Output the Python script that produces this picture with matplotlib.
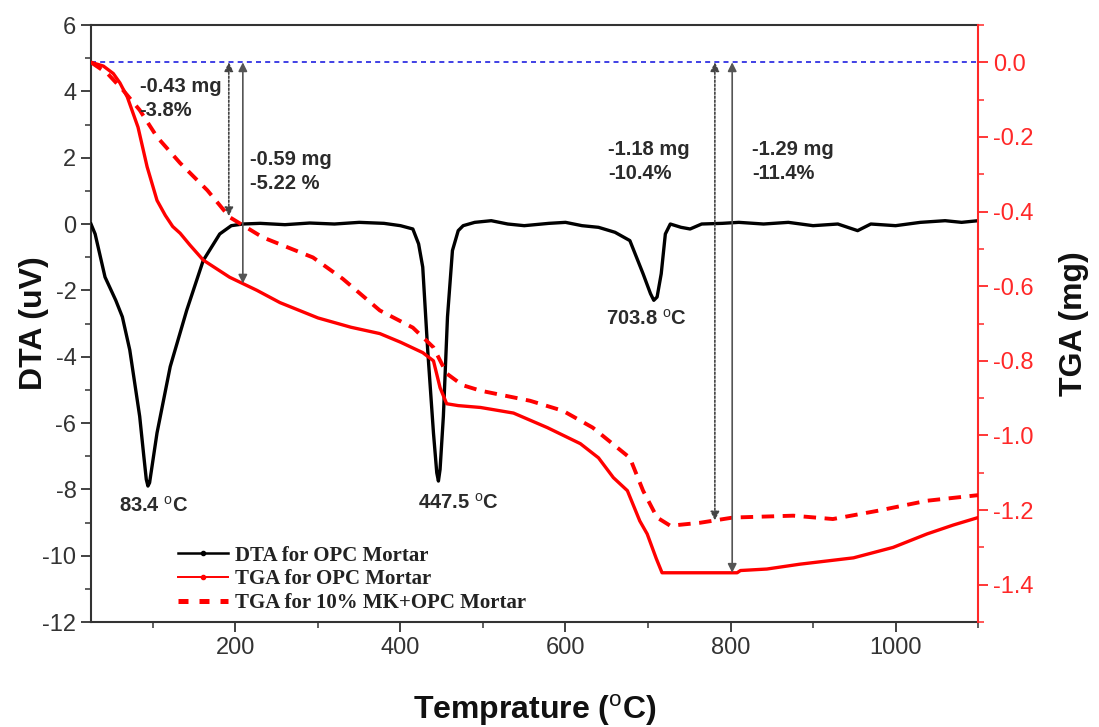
"""DTA / TGA curves for OPC mortar and 10% MK + OPC mortar."""
import numpy as np
import matplotlib
matplotlib.use("Agg")
import matplotlib.pyplot as plt
from matplotlib.ticker import MultipleLocator

plt.rcParams["font.family"] = ["Liberation Sans", "DejaVu Sans"]
plt.rcParams["mathtext.fontset"] = "custom"
plt.rcParams["mathtext.rm"] = "Liberation Sans"
plt.rcParams["mathtext.bf"] = "Liberation Sans:bold"
plt.rcParams["axes.unicode_minus"] = False

# ---------- DTA, OPC mortar (uV)
dta_t = [25, 30, 42, 55, 63, 72, 84, 89, 92, 94, 96, 99, 105, 121, 141, 161,
         181, 195, 209, 230, 260, 290, 320, 350, 380, 400, 415, 422, 427, 433,
         440, 444, 446, 448, 452, 457, 463, 470, 476, 490, 510, 530, 550, 580,
         600, 620, 640, 660, 678, 694, 703, 707, 711, 716, 721, 727, 740, 751,
         765, 790, 810, 840, 870, 900, 930, 954, 970, 1000, 1030, 1060, 1080,
         1100]
dta_v = [0.0, -0.3, -1.6, -2.3, -2.8, -3.8, -5.8, -7.0, -7.7, -7.9, -7.8, -7.3,
         -6.3, -4.3, -2.6, -1.1, -0.3, -0.05, 0.0, 0.02, -0.02, 0.03, 0.0, 0.05,
         0.02, -0.05, -0.15, -0.6, -1.3, -3.8, -6.3, -7.5, -7.75, -7.4, -5.8,
         -2.8, -0.8, -0.2, -0.05, 0.05, 0.1, 0.0, -0.05, 0.02, 0.05, -0.05, -0.1,
         -0.25, -0.5, -1.5, -2.1, -2.3, -2.2, -1.5, -0.3, 0.0, -0.1, -0.15, 0.0,
         0.02, 0.05, 0.0, 0.05, -0.05, 0.0, -0.2, 0.0, -0.05, 0.05, 0.1, 0.05,
         0.1]

# ---------- TGA, OPC mortar (mg)
tga_t = [25, 40, 52, 60, 69, 82, 93, 105, 115, 124, 133, 145, 161, 193, 226,
         254, 300, 340, 375, 400, 427, 440, 448, 456, 470, 497, 537, 578, 618,
         640, 658, 675, 690, 699, 710, 717, 808, 812, 844, 884, 949, 997, 1038,
         1070, 1100]
tga_v = [0.0, -0.01, -0.03, -0.055, -0.093, -0.174, -0.28, -0.37, -0.41, -0.44,
         -0.458, -0.49, -0.53, -0.576, -0.611, -0.644, -0.685, -0.71, -0.727,
         -0.75, -0.778, -0.80, -0.872, -0.915, -0.92, -0.925, -0.94, -0.979,
         -1.022, -1.06, -1.113, -1.148, -1.229, -1.264, -1.33, -1.368, -1.368,
         -1.362, -1.358, -1.345, -1.328, -1.30, -1.264, -1.24, -1.22]

# ---------- TGA, 10% MK + OPC mortar (mg)
mk_t = [25, 45, 64, 84, 105, 133, 166, 193, 233, 294, 330, 375, 415, 440, 456,
        475, 497, 557, 597, 633, 678, 694, 711, 727, 763, 803, 876, 924, 978,
        1038, 1100]
mk_v = [0.0, -0.03, -0.075, -0.128, -0.2, -0.27, -0.343, -0.415, -0.469,
        -0.523, -0.58, -0.665, -0.711, -0.764, -0.834, -0.865, -0.88, -0.907,
        -0.934, -0.979, -1.06, -1.148, -1.22, -1.242, -1.234, -1.22, -1.215,
        -1.224, -1.202, -1.175, -1.16]

# mass-loss markers: temperature, which curve, label
loss_t = [192, 209, 781, 802]
loss_curve = ["mk", "opc", "mk", "opc"]
loss_text = ["-0.43 mg\n-3.8%", "-0.59 mg\n-5.22 %", "-1.18 mg\n-10.4%", "-1.29 mg\n-11.4%"]
loss_text_xy = [(84, -0.097), (218, -0.293), (652, -0.266), (826, -0.266)]

# peak labels
peak_names = ["83.4", "447.5", "703.8"]
peak_xy = [(101, -8.5), (470, -8.4), (698, -2.85)]

txt = "#2b2b2b"
fig = plt.figure(figsize=(10.99, 7.27), dpi=100)
ax = fig.add_axes([0.0828, 0.1444, 0.8072, 0.8212])
ax2 = ax.twinx()

ax.plot(dta_t, dta_v, color="black", lw=2.4, solid_joinstyle="round", zorder=3)
ax2.plot(tga_t, tga_v, color="#ff0000", lw=2.4, zorder=3)
ax2.plot(mk_t, mk_v, color="#ff0000", lw=2.8, ls=(0, (3.2, 2.2)), zorder=3)
ax2.axhline(0.0, color="#2020e0", lw=1.2, ls=(0, (3, 2.5)), zorder=2)

ax.set_xlim(25, 1100)
ax.set_ylim(-12, 6)
ax2.set_ylim(-1.5, 0.1)

# arrows from the starting mass down to each TGA curve
for t, c in zip(loss_t, loss_curve):
    if c == "mk":
        end = np.interp(t, mk_t, mk_v)
        style = (0, (1.2, 1.2))
        col = "#444444"
    else:
        end = np.interp(t, tga_t, tga_v)
        style = "-"
        col = "#555555"
    ax2.annotate("", xy=(t, end), xytext=(t, 0.0),
                 arrowprops=dict(arrowstyle="<|-|>", color=col, lw=1.2,
                                 linestyle=style, mutation_scale=13,
                                 shrinkA=0, shrinkB=0), zorder=4)

for s, (x, y) in zip(loss_text, loss_text_xy):
    ax2.text(x, y, s, fontsize=14.5, fontweight="bold", color=txt,
             ha="left", va="center", linespacing=1.3, zorder=5)

for s, (x, y) in zip(peak_names, peak_xy):
    ax.text(x, y, s + r" $^{\rm o}$C", fontsize=14.5, fontweight="bold",
            color=txt, ha="center", va="center", zorder=5)

# axes styling
ax.xaxis.set_minor_locator(MultipleLocator(100))
ax.yaxis.set_major_locator(MultipleLocator(2))
ax.yaxis.set_minor_locator(MultipleLocator(1))
ax2.yaxis.set_minor_locator(MultipleLocator(0.1))
ax.set_xticks([200, 400, 600, 800, 1000])
tga_ticks = [-1.4, -1.2, -1.0, -0.8, -0.6, -0.4, -0.2, 0.0]
ax2.set_yticks(tga_ticks)
ax2.set_yticklabels([f"{abs(v):.1f}" if v == 0 else f"{v:.1f}" for v in tga_ticks])

ax.tick_params(axis="both", which="major", direction="out", length=7, width=1.3,
               labelsize=17, labelcolor="#333333", color="#333333")
ax.tick_params(axis="both", which="minor", direction="out", length=4, width=1.1,
               color="#333333")
ax2.tick_params(axis="y", which="major", direction="out", length=7, width=1.3,
                labelsize=17, colors="#ff2828")
ax2.tick_params(axis="y", which="minor", direction="out", length=4, width=1.1,
                colors="#ff2828")
for side in ["left", "bottom", "top"]:
    ax.spines[side].set_linewidth(1.5)
    ax.spines[side].set_color("#333333")
ax2.spines["right"].set_color("#ff2828")
ax2.spines["right"].set_linewidth(1.5)
ax2.spines["left"].set_visible(False)
ax2.spines["top"].set_visible(False)
ax2.spines["bottom"].set_visible(False)
ax.spines["right"].set_visible(False)

ax.set_xlabel(r"Temprature ($^{\rm o}$C)", fontsize=23, fontweight="bold",
              labelpad=24, color="#111111")
ax.set_ylabel("DTA (uV)", fontsize=23, fontweight="bold", color="#111111")
ax2.set_ylabel("TGA (mg)", fontsize=23, fontweight="bold", color="#111111")
ax.yaxis.set_label_coords(-0.047, 0.5)
ax2.yaxis.set_label_coords(1.091, 0.5)

# legend
h1, = ax.plot([], [], color="black", lw=1.8, marker="o", ms=3)
h2, = ax.plot([], [], color="#ff0000", lw=1.4, marker="o", ms=3)
h3, = ax.plot([], [], color="#ff0000", lw=3.6, ls=(0, (2.0, 2.2)))
leg = ax.legend([h1, h2, h3],
                ["DTA for OPC Mortar", "TGA for OPC Mortar",
                 "TGA for 10% MK+OPC Mortar"],
                loc="lower left", bbox_to_anchor=(0.098, 0.015), frameon=False,
                borderaxespad=0, borderpad=0,
                handlelength=2.4, handletextpad=0.35, labelspacing=0.18,
                prop={"family": "Liberation Serif", "weight": "bold",
                      "size": 15})
for t in leg.get_texts():
    t.set_color("#222222")

fig.savefig("out.png", dpi=100)
